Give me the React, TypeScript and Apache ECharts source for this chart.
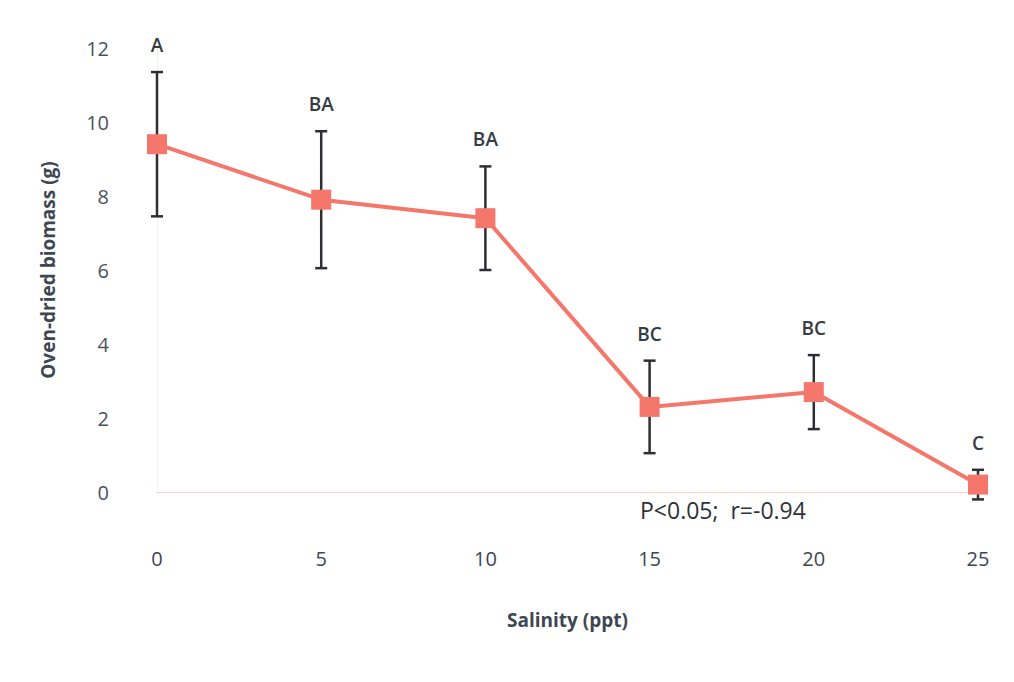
import React, { useEffect, useRef } from "react";
import * as echarts from "echarts";

const salinity = [0, 5, 10, 15, 20, 25];
const biomass = [9.4, 7.9, 7.4, 2.3, 2.7, 0.2];
const errors = [1.95, 1.85, 1.4, 1.25, 1.0, 0.4];
const letters = ["A", "BA", "BA", "BC", "BC", "C"];
const yTicks = [0, 2, 4, 6, 8, 10, 12];
const xTicks = [0, 5, 10, 15, 20, 25];
const statText = "P<0.05;  r=-0.94";

const FONT = "'Open Sans', 'Liberation Sans', sans-serif";
const LINE = "#f5766b";
const TEXT = "#3d4652";

export default function App() {
  const ref = useRef<HTMLDivElement>(null);
  useEffect(() => {
    if (!ref.current) return;
    const chart = echarts.init(ref.current, null, { renderer: "svg" });
    const lineData = salinity.map((s, i) => [s, biomass[i]]);
    const errData = salinity.map((s, i) => [s, biomass[i] - errors[i], biomass[i] + errors[i], i]);
    chart.setOption({
      animation: false,
      backgroundColor: "#ffffff",
      textStyle: { fontFamily: FONT },
      grid: { left: 157, right: 36, top: 48, bottom: 190, containLabel: false },
      xAxis: {
        type: "value",
        min: xTicks[0],
        max: xTicks[xTicks.length - 1],
        interval: 5,
        name: "Salinity (ppt)",
        nameLocation: "middle",
        nameGap: 118,
        nameTextStyle: { fontFamily: FONT, fontSize: 19, fontWeight: "bold", color: TEXT },
        axisLine: { show: true, lineStyle: { color: "#f8cfc9", width: 1 } },
        axisTick: { show: false },
        splitLine: { show: false },
        axisLabel: { margin: 56, fontSize: 20, color: TEXT, fontFamily: FONT },
      },
      yAxis: {
        type: "value",
        min: yTicks[0],
        max: yTicks[yTicks.length - 1],
        interval: 2,
        name: "Oven-dried biomass (g)",
        nameLocation: "middle",
        nameGap: 100,
        nameRotate: 90,
        nameTextStyle: { fontFamily: FONT, fontSize: 19, fontWeight: "bold", color: TEXT },
        axisLine: { show: true, lineStyle: { color: "#f0f0f0", width: 1 } },
        axisTick: { show: false },
        splitLine: { show: false },
        axisLabel: { margin: 48, fontSize: 20, color: "#4a525e", fontFamily: FONT },
      },
      series: [
        {
          type: "custom",
          z: 1,
          data: errData,
          encode: { x: 0, y: [1, 2] },
          renderItem: (params: any, api: any) => {
            const x = api.value(0);
            const lo = api.coord([x, api.value(1)]);
            const hi = api.coord([x, api.value(2)]);
            const idx = api.value(3);
            const cap = 6;
            const st = { stroke: "#2e2e33", lineWidth: 2.5 };
            return {
              type: "group",
              children: [
                { type: "line", shape: { x1: hi[0], y1: hi[1], x2: lo[0], y2: lo[1] }, style: st },
                { type: "line", shape: { x1: hi[0] - cap, y1: hi[1], x2: hi[0] + cap, y2: hi[1] }, style: st },
                { type: "line", shape: { x1: lo[0] - cap, y1: lo[1], x2: lo[0] + cap, y2: lo[1] }, style: st },
                {
                  type: "text",
                  x: hi[0],
                  y: hi[1] - 27,
                  style: {
                    text: letters[idx],
                    fill: "#363b44",
                    font: `600 19px ${FONT}`,
                    align: "center",
                    verticalAlign: "middle",
                  },
                },
              ],
            };
          },
        },
        {
          type: "line",
          z: 2,
          data: lineData,
          symbol: "rect",
          symbolSize: 20,
          itemStyle: { color: LINE },
          lineStyle: { color: LINE, width: 4 },
        },
      ],
      graphic: [
        {
          type: "text",
          left: 640,
          top: 498,
          z: 10,
          style: { text: statText, fill: "#2e3238", font: `23px ${FONT}`, backgroundColor: "#ffffff" },
        },
      ],
    });
    return () => chart.dispose();
  }, []);
  return <div ref={ref} style={{ width: 1014, height: 682, margin: -8 }} />;
}
